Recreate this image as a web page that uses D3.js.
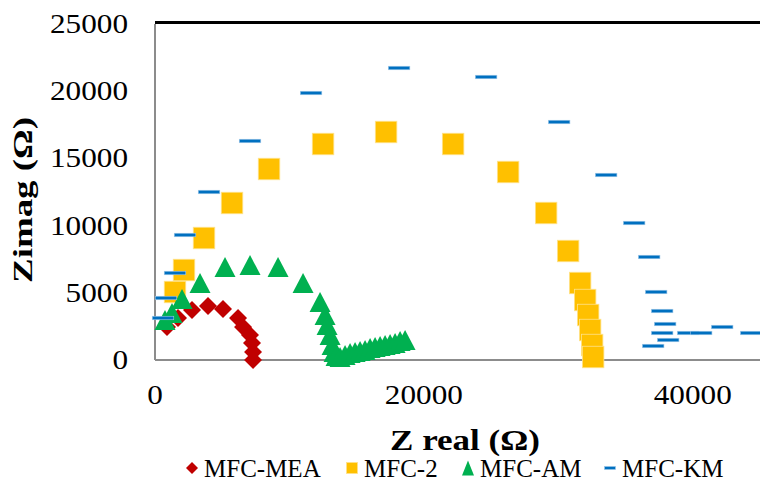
<!DOCTYPE html>
<html><head><meta charset="utf-8">
<script src="https://cdn.jsdelivr.net/npm/d3@7/dist/d3.min.js"></script>
</head>
<body style="margin:0;padding:0;background:#fff;"><svg id="c" width="760" height="495" style="display:block"></svg>
<script>
const seriesNames = ["MFC-MEA","MFC-2","MFC-AM","MFC-KM"];
const seriesColors = ["#C00000","#FFC000","#00B050","#0070C0"];
const xTicks = [0,20000,40000];
const yTicks = [0,5000,10000,15000,20000,25000];

const mea = [[893,2455],[1711,3125],[2753,3720],[3943,4018],[5060,3795],[6176,3125],[6548,2455],[7068,1860],[7217,1265],[7292,595],[7292,0]];
const mfc2 = [[1488,5060],[2158,6696],[3646,9077],[5729,11682],[8482,14211],[12500,16071],[17188,16964],[22173,16071],[26265,13988],[29092,10938],[30729,8110],[31622,5729],[31994,4464],[32217,3348],[32366,2232],[32515,1116],[32589,223]];
const am = [[744,2976],[1265,3497],[2009,4539],[3348,5729],[5208,6920],[7068,7068],[9152,6920],[11012,5729],[12277,4315],[12649,3348],[12798,2604],[13021,1860],[13170,1116],[13318,595],[13467,298],[13765,223],[14137,372],[14509,521],[14881,595],[15253,670],[15625,744],[15997,893],[16369,967],[16741,1042],[17113,1116],[17485,1190],[17857,1265],[18229,1414],[18601,1488]];
const km = [[595,3125],[818,4613],[1488,6473],[2232,9301],[4018,12500],[7068,16295],[11607,19866],[18155,21726],[24628,21057],[30060,17708],[33557,13765],[35640,10193],[36756,7664],[37277,5060],[37723,3646],[37946,2679],[37723,2009],[38170,1488],[37054,1042],[39658,2009],[40625,2009],[42188,2455],[44345,2009]];

const FONT = '"Liberation Serif"';
const svg = d3.select("#c");
const x = d3.scaleLinear().domain([0,45000]).range([155,760]);
const y = d3.scaleLinear().domain([0,25000]).range([360,24]);

svg.append("line").attr("x1",155).attr("x2",760).attr("y1",22.5).attr("y2",22.5)
  .attr("stroke","#000").attr("stroke-width",3);

svg.append("line").attr("x1",x(0)).attr("x2",x(0)).attr("y1",y(25000)).attr("y2",y(0))
  .attr("stroke","#8c8c8c").attr("stroke-width",2);
svg.append("line").attr("x1",x(0)).attr("x2",760).attr("y1",y(0)).attr("y2",y(0))
  .attr("stroke","#8c8c8c").attr("stroke-width",2);

const digitW = 15.6;
svg.append("g").selectAll("text").data(yTicks).join("text")
  .attr("x",128).attr("y",d=>y(d)+9).attr("text-anchor","end").style("font-family",FONT)
  .attr("font-size",28).attr("fill","#000")
  .attr("textLength",d=>String(d).length*digitW).attr("lengthAdjust","spacingAndGlyphs").text(d=>d);
svg.append("g").selectAll("text").data(xTicks).join("text")
  .attr("x",d=>x(d)).attr("y",404).attr("text-anchor","middle").style("font-family",FONT)
  .attr("font-size",28).attr("fill","#000")
  .attr("textLength",d=>String(d).length*digitW).attr("lengthAdjust","spacingAndGlyphs").text(d=>d);

svg.append("text").attr("transform","translate(32,200) rotate(-90)").style("font-family",FONT)
  .attr("text-anchor","middle").attr("font-size",28).attr("font-weight","bold")
  .attr("textLength",166).attr("lengthAdjust","spacingAndGlyphs").text("Zimag (Ω)");
svg.append("text").attr("x",465).attr("y",450).attr("text-anchor","middle").style("font-family",FONT)
  .attr("font-size",30).attr("font-weight","bold")
  .attr("textLength",150).attr("lengthAdjust","spacingAndGlyphs").text("Z real (Ω)");

function diamond(g, cx, cy, r, col){
  g.append("path").attr("d",`M${cx},${cy-r}L${cx+r},${cy}L${cx},${cy+r}L${cx-r},${cy}Z`).attr("fill",col);
}
function square(g, cx, cy, s, col){
  g.append("rect").attr("x",cx-s/2).attr("y",cy-s/2).attr("width",s).attr("height",s)
   .attr("fill",col).attr("stroke","#ffe28a").attr("stroke-width",0.8);
}
function tri(g, cx, cy, w, h, col){
  g.append("path").attr("d",`M${cx},${cy-h/2}L${cx+w/2},${cy+h/2}L${cx-w/2},${cy+h/2}Z`).attr("fill",col);
}
function dash(g, cx, cy, w, h, col){
  g.append("rect").attr("x",cx-w/2).attr("y",cy-h/2).attr("width",w).attr("height",h)
   .attr("fill",col).attr("stroke","#9cc6e8").attr("stroke-width",0.6);
}

const plot = svg.append("g");
mea.forEach(d=>diamond(plot, x(d[0]), y(d[1]), 9, seriesColors[0]));
mfc2.forEach(d=>square(plot, x(d[0]), y(d[1]), 21.5, seriesColors[1]));
am.forEach(d=>tri(plot, x(d[0]), y(d[1]), 21, 20, seriesColors[2]));
km.forEach(d=>dash(plot, x(d[0]), y(d[1]), 21.5, 3.5, seriesColors[3]));

const lg = svg.append("g");
const lx = [192,352,468,610];
const ly = 468;
diamond(lg, lx[0], ly, 6, seriesColors[0]);
square(lg, lx[1], ly, 11, seriesColors[1]);
tri(lg, lx[2], ly, 12, 15, seriesColors[2]);
dash(lg, lx[3], ly, 11, 3, seriesColors[3]);
lg.selectAll("text").data(seriesNames).join("text").style("font-family",FONT)
  .attr("x",(d,i)=>lx[i]+12).attr("y",ly+9).attr("font-size",25).attr("fill","#000").text(d=>d);
</script></body></html>
